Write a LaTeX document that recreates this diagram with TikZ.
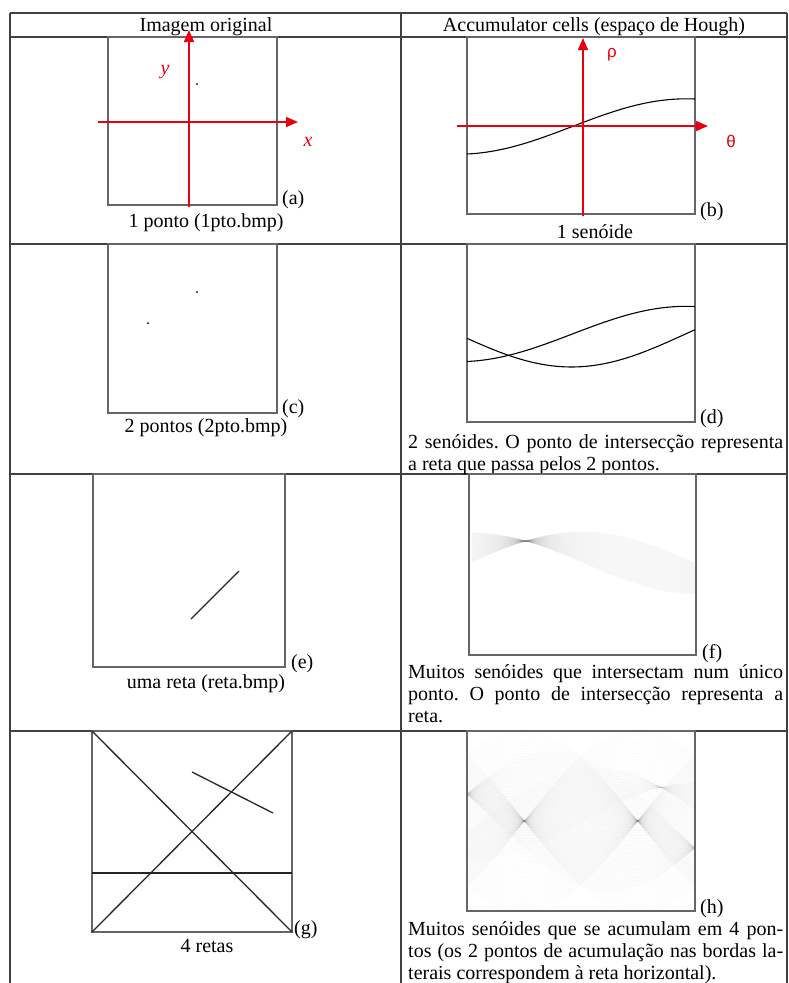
\documentclass[tikz,border=0pt]{standalone}
\usepackage{fontspec}
\setmainfont{Liberation Serif}
\newfontfamily\grk{Liberation Sans}
\usetikzlibrary{arrows.meta}
\definecolor{axred}{RGB}{232,0,16}
\frenchspacing
\begin{document}
\begin{tikzpicture}[x=1pt,y=-1pt,
  tbl/.style={line width=1.3pt,draw=black!75},
  imgbox/.style={line width=1.5pt,draw=black!60},
  axisarrow/.style={line width=1.4pt,draw=axred,-{Triangle[length=12pt,width=10pt]}},
  txt/.style={inner sep=0pt,font=\fontsize{20}{22}\selectfont},
  axlbl/.style={inner sep=0pt,text=axred},
  sinecurve/.style={line width=1.1pt,draw=black},
  seg/.style={line width=1.3pt,draw=black!85},
  band/.style={line width=0.9pt,draw=black,draw opacity=0.016},
  fband/.style={line width=1pt,draw=black,draw opacity=0.025}
]
\useasboundingbox (0,0) rectangle (789,983);

% ---------- (f) band of sinusoids ----------
\foreach \i in {0,...,49}{
  \draw[fband] plot[domain=0.012:1,samples=40,variable=\t]
    ({469+227*\t},{563.5-0.63*((48.5-48*\i/49)*cos(180*\t)+(2+48*\i/49)*sin(180*\t))});
}
% ---------- (h) accumulator ----------
\foreach \i in {0,...,69}{
  \draw[band] plot[domain=0:1,samples=45,variable=\t]
    ({467+228*\t},{821-0.64*((-101+202*\i/69)*cos(180*\t)+(-100+200*\i/69)*sin(180*\t))});
  \draw[band] plot[domain=0:1,samples=45,variable=\t]
    ({467+228*\t},{821-0.64*((101-202*\i/69)*cos(180*\t)+(-100+200*\i/69)*sin(180*\t))});
}
\foreach \i in {0,...,49}{
  \draw[band] plot[domain=0:1,samples=45,variable=\t]
    ({467+228*\t},{821-0.64*(42*cos(180*\t)+(-100+200*\i/49)*sin(180*\t))});
}
\foreach \i in {0,...,21}{
  \draw[band] plot[domain=0:1,samples=45,variable=\t]
    ({467+228*\t},{821-0.64*((-59+41*\i/21)*cos(180*\t)+(81*\i/21)*sin(180*\t))});
}

% ---------- table ----------
\draw[tbl] (10,13) -- (787,13);
\draw[tbl] (10,37) -- (787,37);
\draw[tbl] (10,244) -- (787,244);
\draw[tbl] (10,474) -- (787,474);
\draw[tbl] (10,731) -- (787,731);
\draw[tbl] (10,13) -- (10,983);
\draw[tbl] (787,13) -- (787,983);
\draw[tbl] (401,13) -- (401,983);

\node[txt,anchor=base] (hleft) at (206,31) {Imagem original};
\node[txt,anchor=base] (hright) at (594,31) {Accumulator cells (espaço de Hough)};

% ---------- (a) ----------
\draw[imgbox] (108,37) rectangle (277,205);
\fill (197,84) circle (1pt);
\coordinate (ax0) at (98,122);  \coordinate (ax1) at (298,122);
\coordinate (ay0) at (189,207); \coordinate (ay1) at (189,30);
\draw[axisarrow] (ax0) -- (ax1);
\draw[axisarrow] (ay0) -- (ay1);
\node[axlbl,font=\fontsize{20}{20}\selectfont\itshape] (ylab) at (165,72) {y};
\node[axlbl,font=\fontsize{20}{20}\selectfont\itshape] (xlab) at (308,142) {x};
\node[txt,anchor=base west] (la) at (282,204) {(a)};
\node[txt,anchor=base] (capa) at (206,227) {1 ponto (1pto.bmp)};

% ---------- (b) ----------
\draw[imgbox] (467,37) rectangle (695,214);
\draw[sinecurve] plot[domain=0:1,samples=60,variable=\t]
  ({467+228*\t},{126.5+27.5*cos(180*\t)-3.3*sin(180*\t)});
\coordinate (bx0) at (457,126); \coordinate (bx1) at (708,126);
\coordinate (by0) at (583,216); \coordinate (by1) at (583,38);
\draw[axisarrow] (bx0) -- (bx1);
\draw[axisarrow] (by0) -- (by1);
\node[axlbl,font=\grk\fontsize{17}{17}\selectfont] (rholab) at (612,55) {ρ};
\node[axlbl,font=\grk\fontsize{17}{17}\selectfont] (thlab) at (731,141) {θ};
\node[txt,anchor=base west] (lb) at (700,216) {(b)};
\node[txt,anchor=base] (capb) at (595,238) {1 senóide};

% ---------- (c) ----------
\draw[imgbox] (108,244) rectangle (277,413);
\fill (197,292) circle (1pt);
\fill (148,323) circle (1pt);
\node[txt,anchor=base west] (lc) at (282,413) {(c)};
\node[txt,anchor=base] (capc) at (206,432) {2 pontos (2pto.bmp)};

% ---------- (d) ----------
\draw[imgbox] (467,244) rectangle (695,422);
\draw[sinecurve] plot[domain=0:1,samples=60,variable=\t]
  ({467+228*\t},{334+27.5*cos(180*\t)-3.3*sin(180*\t)});
\draw[sinecurve] plot[domain=0:1,samples=60,variable=\t]
  ({467+228*\t},{334+4.3*cos(180*\t)+32.7*sin(180*\t)});
\node[txt,anchor=base west] (ld) at (700,423) {(d)};
\node[txt,anchor=base west] (capd) at (408,448) {\parbox[t]{375pt}{2 senóides. O ponto de intersecção representa\linebreak a reta que passa pelos 2 pontos.}};

% ---------- (e) ----------
\draw[imgbox] (93,474) rectangle (285,667);
\draw[seg] (191,619) -- (239,571);
\node[txt,anchor=base west] (le) at (291,668) {(e)};
\node[txt,anchor=base] (cape) at (206,688) {uma reta (reta.bmp)};

% ---------- (f) ----------
\draw[imgbox] (469,474) rectangle (696,655);
\node[txt,anchor=base west] (lf) at (702,658) {(f)};
\node[txt,anchor=base west] (capf) at (408,678) {\parbox[t]{375pt}{Muitos senóides que intersectam num único\linebreak ponto. O ponto de intersecção representa a\linebreak reta.}};

% ---------- (g) ----------
\draw[imgbox] (92,731) rectangle (292,932);
\draw[seg] (92,731) -- (292,932);
\draw[seg] (92,932) -- (292,731);
\draw[seg] (92,873) -- (292,873);
\draw[seg] (192,772) -- (273,813);
\node[txt,anchor=base west] (lg) at (294,934) {(g)};
\node[txt,anchor=base] (capg) at (207,952) {4 retas};

% ---------- (h) ----------
\draw[imgbox] (467,731) rectangle (695,911);
\node[txt,anchor=base west] (lh) at (700,913) {(h)};
\node[txt,anchor=base west] (caph) at (408,935) {\parbox[t]{375pt}{Muitos senóides que se acumulam em 4 pon-\linebreak tos (os 2 pontos de acumulação nas bordas la-\linebreak terais correspondem à reta horizontal).}};
\end{tikzpicture}
\end{document}
